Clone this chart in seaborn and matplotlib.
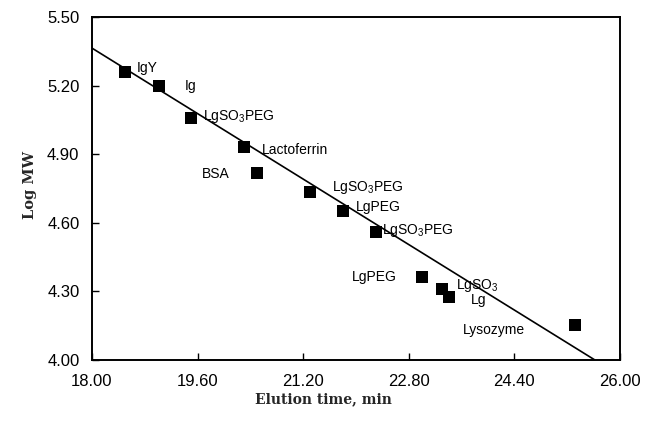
import numpy as np
import pandas as pd
import matplotlib
matplotlib.use('Agg')
import matplotlib.pyplot as plt
import seaborn as sns

# Data
proteins = ['IgY', 'Ig', 'LgSO$_3$PEG', 'Lactoferrin', 'BSA', 'LgSO$_3$PEG',
            'LgPEG', 'LgSO$_3$PEG', 'LgPEG', 'LgSO$_3$', 'Lg', 'Lysozyme']
elution_time = [18.50, 19.02, 19.50, 20.30, 20.50, 21.30,
                21.80, 22.30, 23.00, 23.30, 23.41, 25.32]
log_mw = [5.26, 5.20, 5.06, 4.93, 4.82, 4.735,
          4.65, 4.56, 4.363, 4.31, 4.276, 4.153]

# Calibration line: log MW = intercept + slope * time
fit_intercept = 8.586
fit_slope = -0.179

x_ticks = [18.00, 19.60, 21.20, 22.80, 24.40, 26.00]
y_ticks = [4.00, 4.30, 4.60, 4.90, 5.20, 5.50]

# label offsets (pixels) from each point
label_dx = [12, 25, 12, 18, -55, 22, 13, 6, -70, 14, 22, -112]
label_dy = [4, 0, 1, -3, -1, 4, 4, 1, 0, 4, -3, -5]

df = pd.DataFrame({'time': elution_time, 'logmw': log_mw, 'name': proteins})

sns.set_style('ticks')
plt.rcParams['font.family'] = ['Liberation Sans', 'DejaVu Sans']
plt.rcParams['mathtext.default'] = 'regular'
plt.rcParams['text.color'] = 'black'

fig = plt.figure(figsize=(6.45, 4.33), dpi=100)
ax = fig.add_axes([0.1426, 0.1686, 0.8186, 0.7921])

# fitted line from x=18 to where it meets log MW = 4.0
line_x = np.array([18.0, (4.0 - fit_intercept) / fit_slope])
line_df = pd.DataFrame({'time': line_x, 'logmw': fit_intercept + fit_slope * line_x})
sns.lineplot(data=line_df, x='time', y='logmw', color='black', lw=1.2, ax=ax, zorder=2)

sns.scatterplot(data=df, x='time', y='logmw', marker='s', s=85, color='black',
                edgecolor='black', linewidth=0, ax=ax, zorder=3)

for i, row in df.iterrows():
    ax.annotate(row['name'], (row['time'], row['logmw']),
                xytext=(label_dx[i] * 0.72, label_dy[i] * 0.72),
                textcoords='offset points', fontsize=10, va='center', ha='left',
                color='black')

ax.set_xlim(18, 26)
ax.set_ylim(4.0, 5.5)
ax.set_xticks(x_ticks)
ax.set_xticklabels([f'{t:.2f}' for t in x_ticks])
ax.set_yticks(y_ticks)
ax.set_yticklabels([f'{t:.2f}' for t in y_ticks])
ax.tick_params(direction='in', length=5, width=1, labelsize=12, colors='black')
ax.tick_params(axis='x', pad=10)
ax.tick_params(axis='y', pad=9)

for sp in ax.spines.values():
    sp.set_visible(True)
    sp.set_linewidth(1.4)
    sp.set_color('black')

ax.set_xlabel('Elution time, min', fontsize=10, fontweight='bold',
              family='DejaVu Serif', va='center')
ax.set_ylabel('Log MW', fontsize=10.5, fontweight='bold',
              family='DejaVu Serif', va='center')
ax.xaxis.set_label_coords(0.4375, -0.114)
ax.yaxis.set_label_coords(-0.117, 0.51)

fig.savefig('out.png', dpi=100)
